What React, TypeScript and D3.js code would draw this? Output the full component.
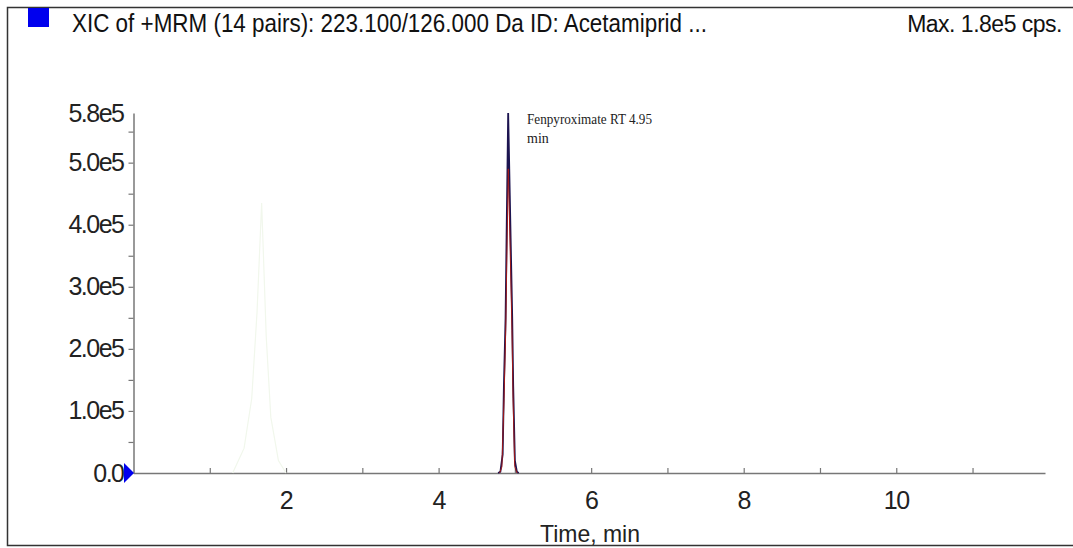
import React, { useEffect, useRef } from "react";
import * as d3 from "d3";

const titleText = "XIC of +MRM (14 pairs): 223.100/126.000 Da ID: Acetamiprid ...";
const maxText = "Max. 1.8e5 cps.";
const xLabel = "Time, min";
const peakLabel = ["Fenpyroximate RT 4.95", "min"];

const xMajorTicks = [2, 4, 6, 8, 10];
const xAllTicks = [1, 2, 3, 4, 5, 6, 7, 8, 9, 10, 11];
const yMajorTicks = [0, 1e5, 2e5, 3e5, 4e5, 5e5];
const yMinorTicks = [0.5e5, 1.5e5, 2.5e5, 3.5e5, 4.5e5, 5.5e5];
const yTopLabel = 5.8e5;

const peakTimes = [4.78, 4.81, 4.84, 4.856, 4.878, 4.891, 4.912, 4.944, 4.965, 4.978, 5.0, 5.026, 5.05];
const navyValues = [0, 2e3, 3e4, 1.4e5, 2.5e5, 3.8e5, 5.8e5, 3.8e5, 2.5e5, 1.4e5, 2e4, 2e3, 0];
const redTimes = [4.8, 4.83, 4.858, 4.88, 4.895, 4.914, 4.94, 4.962, 4.976, 4.998, 5.03];
const redValues = [0, 1e4, 1.2e5, 2.3e5, 3.5e5, 4.9e5, 3.5e5, 2.3e5, 1.2e5, 1e4, 0];
const faintTimes = [1.3, 1.45, 1.55, 1.62, 1.68, 1.74, 1.8, 1.9, 2.0];
const faintValues = [0, 4e4, 1.2e5, 2.6e5, 4.35e5, 2.2e5, 9e4, 2e4, 0];

export default function App() {
  const ref = useRef<SVGSVGElement>(null);

  useEffect(() => {
    document.body.style.margin = "0";
    const svg = d3.select(ref.current);
    svg.selectAll("*").remove();

    const x = d3.scaleLinear().domain([0, 11.95]).range([133.5, 1045]);
    const y = d3.scaleLinear().domain([0, 5.8e5]).range([473, 113]);
    const sans = "'Liberation Sans', Arial, sans-serif";

    // frame
    svg.append("path").attr("d", "M1073,7.5 H7.5 V545.5 H1073")
      .attr("fill", "none").attr("stroke", "#333").attr("stroke-width", 1.5);

    // title
    svg.append("rect").attr("x", 28).attr("y", 8).attr("width", 21).attr("height", 19).attr("fill", "#0000ee");
    svg.append("text").attr("x", 72).attr("y", 32).attr("font-family", sans).attr("font-size", 25)
      .attr("textLength", 635).attr("lengthAdjust", "spacingAndGlyphs").attr("fill", "#111").text(titleText);
    svg.append("text").attr("x", 1062).attr("y", 32).attr("text-anchor", "end").attr("font-family", sans)
      .attr("font-size", 23).attr("letter-spacing", -0.5).attr("fill", "#111").text(maxText);

    const fmt = (v: number) => (v === 0 ? "0.0" : (v / 1e5).toFixed(1) + "e5");

    // y axis
    const gy = svg.append("g").attr("transform", "translate(133.5,0)");
    gy.call(d3.axisLeft(y).tickValues(yMajorTicks).tickSize(5).tickSizeOuter(0).tickFormat(fmt as any));
    gy.append("g").call(d3.axisLeft(y).tickValues(yMinorTicks).tickSize(5).tickSizeOuter(0).tickFormat(() => ""))
      .select(".domain").remove();
    gy.append("text").attr("x", -10).attr("y", y(yTopLabel)).attr("dy", "0.36em").attr("text-anchor", "end")
      .attr("font-family", sans).attr("font-size", 25).attr("letter-spacing", -1.5).attr("fill", "#222")
      .text(fmt(yTopLabel));
    gy.selectAll(".domain").attr("stroke", "#777").attr("stroke-width", 1.5);
    gy.selectAll(".tick line").attr("stroke", "#777").attr("stroke-width", 1.2);
    gy.selectAll(".tick text").attr("font-family", sans).attr("font-size", 25).attr("letter-spacing", -1.5)
      .attr("fill", "#222").attr("x", -10);

    // x axis
    const gx = svg.append("g").attr("transform", `translate(0,${y(0)})`);
    gx.call(d3.axisTop(x).tickValues(xAllTicks).tickSize(5).tickSizeOuter(0).tickFormat(() => ""));
    gx.selectAll(".domain").attr("stroke", "#777").attr("stroke-width", 1.5);
    gx.selectAll(".tick line").attr("stroke", "#777").attr("stroke-width", 1.2);
    gx.selectAll("text.xl").data(xMajorTicks).enter().append("text").attr("class", "xl")
      .attr("x", (d) => x(d)).attr("y", 36).attr("text-anchor", "middle")
      .attr("font-family", sans).attr("font-size", 25).attr("letter-spacing", -1.5).attr("fill", "#222")
      .text((d) => String(d));
    svg.append("text").attr("x", 590).attr("y", 542).attr("text-anchor", "middle")
      .attr("font-family", sans).attr("font-size", 24).attr("textLength", 100).attr("lengthAdjust", "spacingAndGlyphs")
      .attr("fill", "#222").text(xLabel);

    // traces
    const line = d3.line<[number, number]>().x((d) => x(d[0])).y((d) => y(d[1]));
    const faint = faintTimes.map((t, i) => [t, faintValues[i]] as [number, number]);
    svg.append("path").attr("d", line(faint)).attr("fill", "none").attr("stroke", "#f1f7ec").attr("stroke-width", 1.2);
    const red = redTimes.map((t, i) => [t, redValues[i]] as [number, number]);
    const navy = peakTimes.map((t, i) => [t, navyValues[i]] as [number, number]);
    svg.append("path").attr("d", line(navy)).attr("fill", "none").attr("stroke", "#1c1450").attr("stroke-width", 1.8);
    svg.append("path").attr("d", line(red)).attr("fill", "none").attr("stroke", "#a01818").attr("stroke-width", 1);

    // peak label
    const serif = "'Liberation Serif', 'Times New Roman', serif";
    peakLabel.forEach((t, i) => {
      const el = svg.append("text").attr("x", 527).attr("y", 124 + i * 19).attr("font-family", serif).attr("font-size", 14)
        .attr("fill", "#222").text(t);
      if (i === 0) el.attr("textLength", 125).attr("lengthAdjust", "spacingAndGlyphs");
    });

    // origin marker
    svg.append("path").attr("d", `M124,${y(0) - 10} L134,${y(0)} L124,${y(0) + 10} Z`).attr("fill", "#0000ee");
  }, []);

  return <svg ref={ref} width={1073} height={548} style={{ display: "block", background: "#fff" }} />;
}
